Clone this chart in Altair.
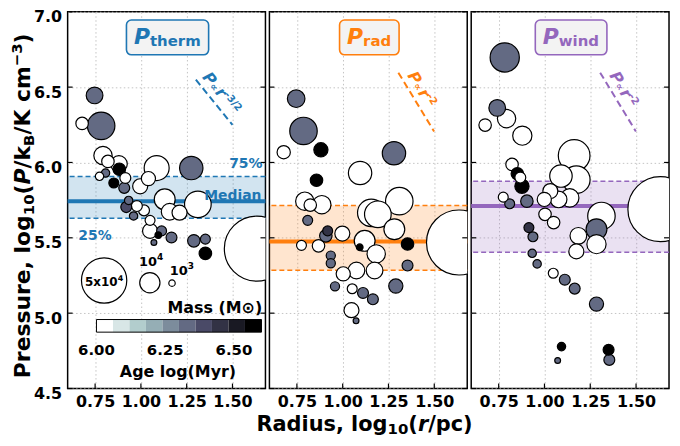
import altair as alt
import pandas as pd

# ---------------- data ----------------
# P_therm panel
therm_radius = [0.747, 0.679, 0.783, 0.793, 0.820, 0.880, 0.882, 0.774, 0.807, 0.852, 0.915, 0.909,
                1.086, 1.275, 0.996, 1.041, 1.130, 1.311, 1.157, 1.211, 0.933, 0.920, 0.978, 1.017,
                0.960, 1.050, 1.050, 1.113, 1.095, 1.167, 1.071, 1.289, 1.352, 1.352, 1.633]
therm_pressure = [6.445, 6.259, 6.243, 6.046, 6.007, 5.990, 5.955, 5.908, 5.930, 5.864, 5.897, 5.831,
                  5.963, 5.963, 5.842, 5.893, 5.755, 5.722, 5.673, 5.667, 5.748, 5.704, 5.711, 5.682,
                  5.645, 5.616, 5.546, 5.546, 5.518, 5.502, 5.469, 5.480, 5.491, 5.397, 5.428]
therm_mass = [6800, 3800, 18400, 8200, 3800, 6800, 3800, 1700, 1700, 2400, 2900, 2900,
              15200, 13300, 5500, 4900, 10600, 17300, 6800, 5500, 1700, 2900, 2900, 2900,
              1700, 2400, 5500, 2400, 1100, 2900, 830, 3800, 2400, 3800, 103000]
therm_age = [6.33, 6.03, 6.33, 6.03, 6.03, 6.03, 6.58, 6.03, 6.33, 6.58, 6.03, 6.33,
             6.03, 6.33, 6.03, 6.03, 6.03, 6.03, 6.03, 6.03, 6.33, 6.40, 6.03, 6.03,
             6.33, 6.03, 6.03, 6.33, 6.58, 6.33, 6.33, 6.33, 6.33, 6.58, 6.03]

# P_rad panel
rad_radius = [0.746, 0.786, 0.678, 0.881, 1.280, 1.095, 0.857, 0.793, 0.823, 0.886, 0.809, 0.775,
              0.868, 0.918, 0.908, 0.998, 0.935, 0.935, 1.003, 1.075, 0.958, 1.052, 1.111, 1.165,
              1.048, 1.073, 1.093, 1.120, 1.183, 1.174, 1.156, 1.192, 1.309, 1.282, 1.354, 1.354,
              1.290, 1.635]
rad_pressure = [6.423, 6.209, 6.068, 6.084, 6.061, 5.930, 5.882, 5.743, 5.717, 5.720, 5.616, 5.450,
                5.447, 5.546, 5.513, 5.528, 5.382, 5.331, 5.261, 5.283, 5.178, 5.162, 5.134, 5.092,
                5.020, 4.949, 5.437, 5.480, 5.393, 5.283, 5.666, 5.656, 5.743, 5.557, 5.459, 5.316,
                5.180, 5.469]
rad_mass = [7500, 18400, 4300, 4900, 13300, 13300, 3800, 8200, 3800, 8200, 2400, 2400,
            3800, 2400, 3800, 5500, 2050, 2050, 4900, 6800, 2050, 2400, 2900, 2900,
            5500, 830, 1100, 10600, 8200, 6800, 18400, 17300, 18400, 10600, 3800, 2900,
            4900, 103000]
rad_age = [6.33, 6.33, 6.03, 6.58, 6.33, 6.03, 6.58, 6.03, 6.03, 6.03, 6.33, 6.03,
           6.03, 6.45, 6.33, 6.03, 6.33, 6.33, 6.03, 6.03, 6.33, 6.03, 6.33, 6.33,
           6.03, 6.33, 6.58, 6.03, 6.03, 6.03, 6.03, 6.03, 6.03, 6.03, 6.58, 6.33,
           6.33, 6.03]

# P_wind panel
wind_radius = [0.783, 0.742, 0.793, 0.676, 0.879, 1.162, 0.823, 0.852, 0.868, 0.877, 0.775, 0.810,
               0.904, 0.999, 1.032, 1.077, 1.138, 1.174, 1.090, 1.003, 1.050, 0.915, 0.937, 0.933,
               0.960, 1.048, 1.111, 1.165, 1.284, 1.185, 1.174, 1.284, 1.284, 1.311, 1.633, 1.093,
               1.072, 1.350, 1.354]
wind_pressure = [6.697, 6.362, 6.291, 6.248, 6.178, 6.046, 5.987, 5.925, 5.900, 5.842, 5.770, 5.726,
                 5.743, 5.755, 5.810, 5.755, 5.765, 5.886, 5.910, 5.656, 5.601, 5.568, 5.507, 5.397,
                 5.327, 5.265, 5.222, 5.163, 5.060, 5.513, 5.410, 5.458, 5.557, 5.645, 5.690, 4.778,
                 4.686, 4.757, 4.690]
wind_mass = [20800, 6800, 8200, 3800, 9000, 24500, 3800, 3800, 2900, 4900, 2400, 2400,
             3800, 4900, 5500, 6800, 8200, 18400, 12300, 3800, 3800, 2400, 2400, 1700,
             1700, 2400, 2900, 2900, 4900, 6800, 5500, 9000, 10600, 18400, 103000, 1700,
             830, 2900, 2900]
wind_age = [6.33, 6.33, 6.03, 6.03, 6.03, 6.03, 6.03, 6.58, 6.03, 6.58, 6.03, 6.33,
            6.33, 6.03, 6.03, 6.03, 6.03, 6.03, 6.03, 6.03, 6.03, 6.45, 6.33, 6.33,
            6.33, 6.03, 6.33, 6.33, 6.33, 6.03, 6.03, 6.03, 6.33, 6.03, 6.03, 6.58,
            6.33, 6.58, 6.33]

# 25%, median, 75% of each pressure term
therm_quartiles = [5.630, 5.743, 5.907]
rad_quartiles = [5.285, 5.475, 5.715]
wind_quartiles = [5.405, 5.711, 5.875]

# power-law guide lines: (r0, P0, slope, length in dex)
therm_guide = [1.300, 6.549, -1.5, 0.200]
rad_guide = [1.304, 6.596, -2.0, 0.195]
wind_guide = [1.304, 6.596, -2.0, 0.195]

x_ticks = [0.75, 1.00, 1.25, 1.50]
y_ticks = [4.5, 5.0, 5.5, 6.0, 6.5, 7.0]
legend_masses = [50000, 10000, 1000]
age_ticks = [6.00, 6.25, 6.50]

# ---------------- styling ----------------
W, H = 199, 379
FONT = "DejaVu Sans"
GRID = "#c4c4c4"
BONE = ["#ffffff", "#d8e6e6", "#b2cdcd", "#95aeb5", "#7c8c9c",
        "#636a83", "#4a4a67", "#323245", "#191923", "#000000"]
AGE_MIN, AGE_MAX = 6.0, 6.6
SIZE_MAX = 4155  # px^2 for 1e5 Msun

xscale = alt.Scale(domain=[0.6, 1.68], nice=False, zero=False)
yscale = alt.Scale(domain=[4.5, 7.0], nice=False, zero=False)
size_scale = alt.Scale(type="linear", domain=[0, 100000], range=[0, SIZE_MAX], zero=True)
color_scale = alt.Scale(type="quantize", domain=[AGE_MIN, AGE_MAX], range=BONE)

ONE = pd.DataFrame({"k": [0]})

WID = {" ": .348, "%": 1.002, "(": .457, ")": .457, ",": .380, "-": .415, ".": .380, "/": .365,
       "A": .774, "B": .762, "K": .775, "M": .995, "P": .733, "R": .770,
       "a": .675, "c": .593, "d": .716, "e": .678, "g": .716, "h": .712, "i": .343, "k": .665,
       "l": .343, "m": 1.042, "n": .712, "o": .687, "p": .716, "r": .493, "s": .595, "t": .478,
       "u": .712, "w": .924, "x": .663, "y": .652, "\u221d": .838, "\u2212": .838, "\u2299": .838}


def tw(s, size):
    return sum(WID.get(ch, 0.696) for ch in s) * size


def rich(pieces, x, y, color="black", angle=0, align="left"):
    """pieces: (text, size, italic, baseline shift)"""
    total = sum(tw(t, s) for t, s, _, _ in pieces)
    off = 0.0
    if align == "center":
        off = -total / 2
    elif align == "right":
        off = -total
    out = []
    for t, s, it, sh in pieces:
        kw = dict(text=t, font=FONT, fontSize=s, fontWeight="bold",
                  fontStyle="italic" if it else "normal", align="left",
                  baseline="alphabetic", color=color, dx=off, dy=sh)
        if angle:
            kw["angle"] = angle
        out.append(alt.Chart(ONE).mark_text(**kw).encode(x=alt.value(x), y=alt.value(y)))
        off += tw(t, s)
    return out


def panel(sub, color, radius, pressure, mass, age, quart, guide, slope_txt,
          slope_anchor, slope_angle, first, xtitle):
    yaxis = alt.Axis(values=y_ticks, format=".1f", labels=first, labelFont=FONT, labelFontSize=16,
                     labelFontWeight="bold", labelColor="black", labelPadding=6, labelOffset=5,
                     ticks=False, domain=False, grid=True, gridColor=GRID, gridDash=[1.5, 2.5],
                     gridWidth=1, title=None)
    xaxis = alt.Axis(values=x_ticks, format=".2f", labelFont=FONT, labelFontSize=16,
                     labelFontWeight="bold", labelColor="black", labelPadding=5,
                     ticks=False, domain=False, grid=True, gridColor=GRID, gridDash=[1.5, 2.5],
                     gridWidth=1, title=None)

    def X(f="r"):
        return alt.X(f + ":Q", scale=xscale, axis=xaxis)

    def Y(f="p"):
        return alt.Y(f + ":Q", scale=yscale, axis=yaxis)

    layers = []
    band = pd.DataFrame({"p": [quart[0]], "p2": [quart[2]]})
    layers.append(alt.Chart(band).mark_rect(color=color, opacity=0.2).encode(
        y=Y(), y2=alt.Y2("p2:Q"), x=alt.value(0), x2=alt.value(W)))
    layers.append(alt.Chart(pd.DataFrame({"p": [quart[0], quart[2]]})).mark_rule(
        color=color, strokeWidth=1.5, strokeDash=[5, 3]).encode(y=Y()))
    layers.append(alt.Chart(pd.DataFrame({"p": [quart[1]]})).mark_rule(
        color=color, strokeWidth=4).encode(y=Y()))

    df = pd.DataFrame({"r": radius, "p": pressure, "mass": mass, "age": age})
    df = df.sort_values("mass", ascending=False)
    layers.append(alt.Chart(df).mark_circle(stroke="black", strokeWidth=1.2, opacity=1,
                                            clip=True).encode(
        x=X(), y=Y(),
        size=alt.Size("mass:Q", scale=size_scale, legend=None),
        color=alt.Color("age:Q", scale=color_scale, legend=None)))

    # inward ticks
    layers.append(alt.Chart(pd.DataFrame({"r": x_ticks})).mark_rule(color="black", strokeWidth=1.2)
                  .encode(x=X(), y=alt.value(H - 5), y2=alt.value(H)))
    ydf = pd.DataFrame({"p": y_ticks})
    layers.append(alt.Chart(ydf).mark_rule(color="black", strokeWidth=1.2)
                  .encode(y=Y(), x=alt.value(0), x2=alt.value(5)))
    layers.append(alt.Chart(ydf).mark_rule(color="black", strokeWidth=1.2)
                  .encode(y=Y(), x=alt.value(W - 5), x2=alt.value(W)))

    # power-law guide
    r0, p0, s, ln = guide
    gdf = pd.DataFrame({"r": [r0, r0 + ln], "p": [p0, p0 + s * ln]})
    layers.append(alt.Chart(gdf).mark_line(color=color, strokeWidth=2, strokeDash=[7, 4])
                  .encode(x=X(), y=Y()))
    layers += rich(slope_txt, slope_anchor[0], slope_anchor[1], color=color, angle=slope_angle)

    # label box
    lab = [("P", 22, True, 0), (sub, 15, False, 2.3)]
    lw = tw("P", 22) + tw(sub, 15) + 0.5
    cx = W / 2 + 1
    layers.append(alt.Chart(ONE).mark_rect(fill="#f3f3f3", stroke=color, strokeWidth=1.6,
                                           cornerRadius=5).encode(
        x=alt.value(cx - lw / 2 - 7.5), x2=alt.value(cx + lw / 2 + 7.5),
        y=alt.value(8.3), y2=alt.value(43.3)))
    layers += rich(lab, cx - lw / 2, 32, color=color)

    if first:
        tc = dict(font=FONT, fontWeight="bold", color=color, fontSize=14)
        layers.append(alt.Chart(ONE).mark_text(text="75%", align="right", **tc)
                      .encode(x=alt.value(W - 3), y=alt.value(153.6)))
        layers.append(alt.Chart(ONE).mark_text(text="Median", align="right", **tc)
                      .encode(x=alt.value(W - 4), y=alt.value(185.3)))
        layers.append(alt.Chart(ONE).mark_text(text="25%", align="left", **tc)
                      .encode(x=alt.value(10.7), y=alt.value(225.3)))
        # mass legend
        lpos = [(36.7, 270.3), (82.7, 272.6), (105, 273)]
        for (lx, ly), mval in zip(lpos, legend_masses):
            layers.append(alt.Chart(ONE).mark_circle(fill="white", stroke="black", strokeWidth=1.2,
                                                     opacity=1).encode(
                x=alt.value(lx), y=alt.value(ly), size=alt.value(mval / 100000 * SIZE_MAX)))
        layers += rich([("5x10", 12, False, 0), ("4", 8, False, -5)], 36.7, 275.8, align="center")
        layers += rich([("10", 13, False, 0), ("4", 9, False, -6)], 84, 255.6, align="center")
        layers += rich([("10", 13, False, 0), ("3", 9, False, -6)], 115, 264.6, align="center")
        layers.append(alt.Chart(ONE).mark_text(text="Mass (M\u2299)", align="right", font=FONT,
                                               fontWeight="bold", fontSize=16, color="black")
                      .encode(x=alt.value(195.7), y=alt.value(298.3)))
        # age colour bar
        cb_x0, cb_x1, cb_y0, cb_y1 = 29, 195, 309.6, 322.3
        step = (cb_x1 - cb_x0) / len(BONE)
        for i, c in enumerate(BONE):
            layers.append(alt.Chart(ONE).mark_rect(fill=c).encode(
                x=alt.value(cb_x0 + i * step), x2=alt.value(cb_x0 + (i + 1) * step),
                y=alt.value(cb_y0), y2=alt.value(cb_y1)))
        layers.append(alt.Chart(ONE).mark_rect(fill=None, stroke="black", strokeWidth=1).encode(
            x=alt.value(cb_x0), x2=alt.value(cb_x1), y=alt.value(cb_y0), y2=alt.value(cb_y1)))
        for a in age_ticks:
            px = cb_x0 + (a - AGE_MIN) / (AGE_MAX - AGE_MIN) * (cb_x1 - cb_x0)
            layers.append(alt.Chart(ONE).mark_text(text=f"{a:.2f}", align="center", font=FONT,
                                                   fontWeight="bold", fontSize=15, color="black")
                          .encode(x=alt.value(px), y=alt.value(340.3)))
        layers.append(alt.Chart(ONE).mark_text(text="Age log(Myr)", align="center", font=FONT,
                                               fontWeight="bold", fontSize=16, color="black")
                      .encode(x=alt.value(111), y=alt.value(362.3)))
        # y title
        ytitle = [("Pressure, log", 22, False, 0), ("10", 15, False, 4), ("(", 22, False, 0),
                  ("P", 22, True, 0), ("/k", 22, False, 0), ("B", 15, False, 4),
                  ("/K cm", 22, False, 0), ("\u22123", 15, False, -8), (")", 22, False, 0)]
        layers += rich(ytitle, -38.3, 368.6, angle=270)
    if xtitle:
        xt = [("Radius, log", 21, False, 0), ("10", 15, False, 3), ("(", 21, False, 0),
              ("r", 21, True, 0), ("/pc)", 21, False, 0)]
        layers += rich(xt, 95.7, H + 42.5, align="center")

    return alt.layer(*layers).properties(width=W, height=H)


slope32 = [("P", 16, True, 0), ("\u221d", 10, False, 0), ("r", 16, True, 0), ("-3/2", 10, False, -6)]
slope2 = [("P", 16, True, 0), ("\u221d", 10, False, 0), ("r", 16, True, 0), ("-2", 10, False, -6)]

p1 = panel("therm", "#1f77b4", therm_radius, therm_pressure, therm_mass, therm_age,
           therm_quartiles, therm_guide, slope32, (134.9, 66), 50.6, True, False)
p2 = panel("rad", "#ff7f0e", rad_radius, rad_pressure, rad_mass, rad_age,
           rad_quartiles, rad_guide, slope2, (138.5, 64.2), 58.6, False, True)
p3 = panel("wind", "#9467bd", wind_radius, wind_pressure, wind_mass, wind_age,
           wind_quartiles, wind_guide, slope2, (138.5, 64.2), 58.6, False, False)

chart = alt.hconcat(p1, p2, p3, spacing=4, bounds="flush").properties(
    padding={"left": 0, "top": -1.5, "right": 0, "bottom": 0}
).configure_view(stroke="black", strokeWidth=1.5)

chart.save("out.html", embed_options={"renderer": "svg", "actions": False})
